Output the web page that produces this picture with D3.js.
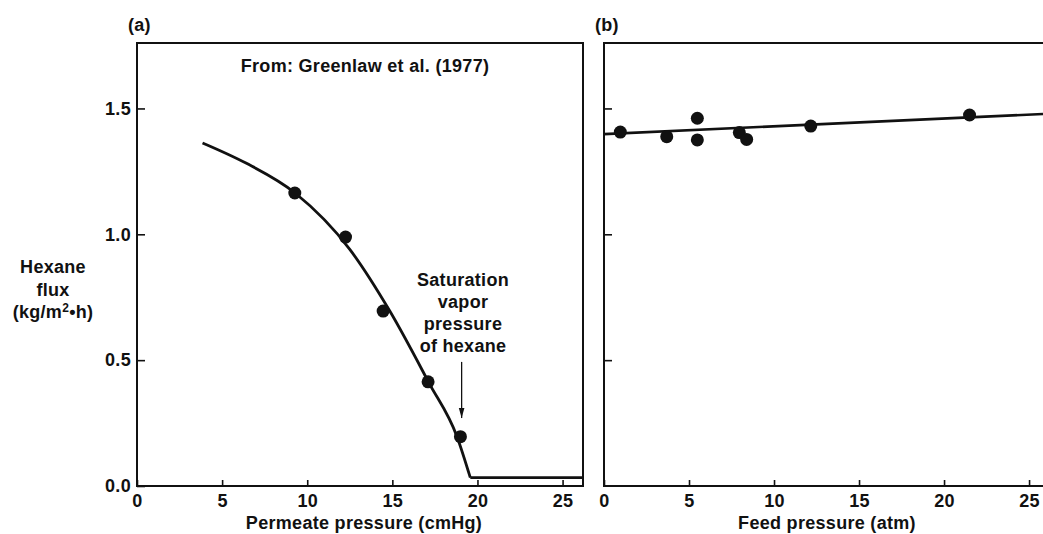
<!DOCTYPE html>
<html>
<head>
<meta charset="utf-8">
<script src="https://cdn.jsdelivr.net/npm/d3@7"></script>
<style>
  html, body { margin: 0; padding: 0; background: #fff; }
  svg { display: block; }
  text { font-family: "Liberation Sans", Arial, Helvetica, sans-serif; font-weight: bold; fill: #111; letter-spacing: 0.3px; }
</style>
</head>
<body>
<svg id="chart" width="1043" height="534"></svg>
<script>
// ---- Data ----
// Panel (a): hexane flux vs permeate pressure
const permeatePts = [9.27, 12.25, 14.46, 17.1, 19.0];
const fluxPtsA = [1.164, 0.989, 0.695, 0.414, 0.196];
const curveX = [3.85, 6.4, 9.27, 12.5, 14.85, 17.15, 18.8, 19.58];
const curveY = [1.363, 1.283, 1.165, 0.94, 0.695, 0.41, 0.196, 0.033];
const flatX = [19.58, 26.2];
const flatY = [0.033, 0.033];
// Panel (b): hexane flux vs feed pressure
const feedPts = [0.96, 3.69, 5.49, 5.49, 7.96, 8.39, 12.16, 21.5];
const fluxPtsB = [1.406, 1.388, 1.461, 1.375, 1.404, 1.377, 1.430, 1.474];
const fitX = [0, 25.82];
const fitY = [1.398, 1.478];
// Ticks
const xTicks = [0, 5, 10, 15, 20, 25];
const yTicks = [0.0, 0.5, 1.0, 1.5];
const arrowX = 19.07;
const arrowY = [0.493, 0.27];

const svg = d3.select("#chart");
const ink = "#111";
const plotTop = 43, plotBottom = 486;

const y = d3.scaleLinear().domain([0, 1.76]).range([plotBottom, plotTop]);
const xA = d3.scaleLinear().domain([0, 26.2]).range([137, 583]);
const xB = d3.scaleLinear().domain([0, 25.82]).range([604, 1043]);

const line = (xs) => d3.line().x(d => xs(d[0])).y(d => y(d[1]));

// ---------- Panel (a) ----------
const gA = svg.append("g");
gA.append("g").attr("transform", `translate(0,${plotBottom})`)
  .call(d3.axisBottom(xA).tickValues(xTicks).tickSizeInner(-6).tickSizeOuter(0).tickPadding(8).tickFormat(d3.format("d")))
  .call(g => g.select(".domain").remove());
gA.append("g").attr("transform", `translate(${xA(0)},0)`)
  .call(d3.axisLeft(y).tickValues(yTicks).tickSizeInner(-8).tickSizeOuter(0).tickPadding(6).tickFormat(d3.format(".1f")))
  .call(g => g.select(".domain").remove());
gA.selectAll(".tick line").attr("stroke", ink).attr("stroke-width", 1.6);
gA.selectAll(".tick text").attr("font-size", 18).attr("fill", ink)
  .style("font-family", '"Liberation Sans", Arial, sans-serif').style("font-weight", "bold");
gA.append("rect").attr("x", xA(0)).attr("y", plotTop)
  .attr("width", xA(26.2) - xA(0)).attr("height", plotBottom - plotTop)
  .attr("fill", "none").attr("stroke", ink).attr("stroke-width", 2);

gA.append("path").datum(d3.zip(curveX, curveY))
  .attr("d", line(xA).curve(d3.curveMonotoneX))
  .attr("fill", "none").attr("stroke", ink).attr("stroke-width", 2.8);
gA.append("path").datum(d3.zip(flatX, flatY))
  .attr("d", line(xA))
  .attr("fill", "none").attr("stroke", ink).attr("stroke-width", 2.8);
gA.selectAll("circle").data(d3.zip(permeatePts, fluxPtsA)).join("circle")
  .attr("cx", d => xA(d[0])).attr("cy", d => y(d[1])).attr("r", 6.5).attr("fill", ink);

svg.append("defs").append("marker")
  .attr("id", "ah").attr("viewBox", "0 0 10 10").attr("refX", 10).attr("refY", 5)
  .attr("markerWidth", 10).attr("markerHeight", 10).attr("markerUnits", "userSpaceOnUse")
  .attr("orient", "auto")
  .append("path").attr("d", "M0,2.2 L10,5 L0,7.8 Z").attr("fill", ink);
gA.append("line")
  .attr("x1", xA(arrowX)).attr("x2", xA(arrowX))
  .attr("y1", y(arrowY[0])).attr("y2", y(arrowY[1]))
  .attr("stroke", ink).attr("stroke-width", 1.3).attr("marker-end", "url(#ah)");

const ann = ["Saturation", "vapor", "pressure", "of hexane"];
gA.append("text").attr("x", 463).attr("y", 286).attr("text-anchor", "middle").attr("font-size", 18)
  .selectAll("tspan").data(ann).join("tspan")
  .attr("x", 463).attr("dy", (d, i) => i === 0 ? 0 : 22).text(d => d);

gA.append("text").attr("x", 365).attr("y", 72).attr("text-anchor", "middle")
  .attr("font-size", 18).text("From: Greenlaw et al. (1977)");
gA.append("text").attr("x", 128).attr("y", 31).attr("font-size", 18).text("(a)");
gA.append("text").attr("x", 364).attr("y", 529).attr("text-anchor", "middle")
  .attr("font-size", 18).text("Permeate pressure (cmHg)");

const yt = svg.append("g");
yt.append("text").attr("x", 53).attr("y", 273).attr("text-anchor", "middle").attr("font-size", 18).text("Hexane");
yt.append("text").attr("x", 53).attr("y", 296).attr("text-anchor", "middle").attr("font-size", 18).text("flux");
const t3 = yt.append("text").attr("x", 53).attr("y", 318).attr("text-anchor", "middle").attr("font-size", 18);
t3.append("tspan").text("(kg/m");
t3.append("tspan").attr("font-size", 12).attr("dy", -6).text("2");
t3.append("tspan").attr("dy", 6).text("•h)");

// ---------- Panel (b) ----------
const gB = svg.append("g");
gB.append("g").attr("transform", `translate(0,${plotBottom})`)
  .call(d3.axisBottom(xB).tickValues(xTicks).tickSizeInner(-6).tickSizeOuter(0).tickPadding(8).tickFormat(d3.format("d")))
  .call(g => g.select(".domain").remove());
gB.append("g").attr("transform", `translate(${xB(0)},0)`)
  .call(d3.axisLeft(y).tickValues(yTicks.slice(1)).tickSizeInner(-8).tickSizeOuter(0).tickFormat(""))
  .call(g => g.select(".domain").remove());
gB.selectAll(".tick line").attr("stroke", ink).attr("stroke-width", 1.6);
gB.selectAll(".tick text").attr("font-size", 18).attr("fill", ink)
  .style("font-family", '"Liberation Sans", Arial, sans-serif').style("font-weight", "bold");
gB.append("path")
  .attr("d", `M${xB(25.82) + 5},${plotTop} L${xB(0)},${plotTop} L${xB(0)},${plotBottom} L${xB(25.82) + 5},${plotBottom}`)
  .attr("fill", "none").attr("stroke", ink).attr("stroke-width", 2);
gB.append("path").datum(d3.zip(fitX, fitY))
  .attr("d", line(xB)).attr("fill", "none").attr("stroke", ink).attr("stroke-width", 2.6);
gB.selectAll("circle").data(d3.zip(feedPts, fluxPtsB)).join("circle")
  .attr("cx", d => xB(d[0])).attr("cy", d => y(d[1])).attr("r", 6.5).attr("fill", ink);
gB.append("text").attr("x", 595).attr("y", 31).attr("font-size", 18).text("(b)");
gB.append("text").attr("x", 827).attr("y", 529).attr("text-anchor", "middle")
  .attr("font-size", 18).text("Feed pressure (atm)");
</script>
</body>
</html>
